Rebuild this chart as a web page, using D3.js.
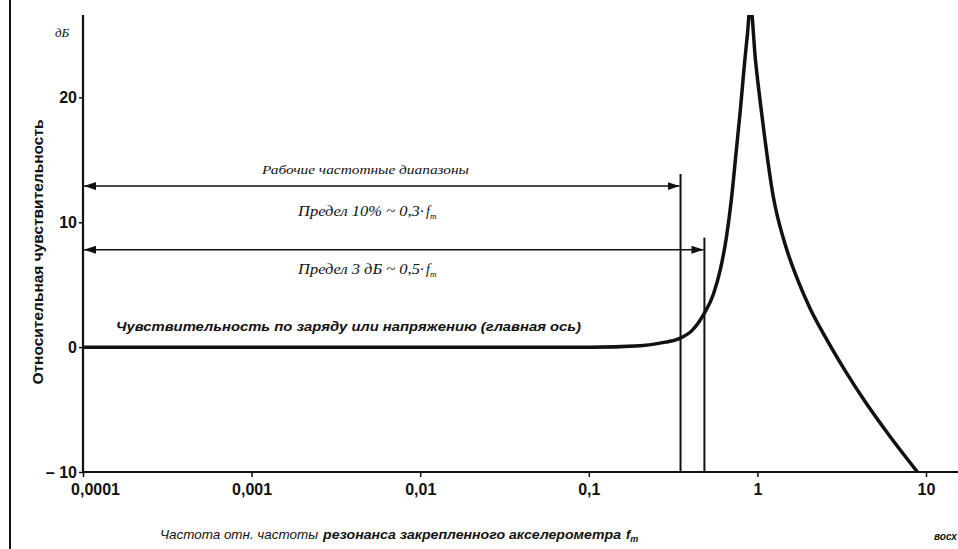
<!DOCTYPE html>
<html>
<head>
<meta charset="utf-8">
<script src="https://cdn.jsdelivr.net/npm/d3@7"></script>
<style>
  body { margin: 0; background: #fff; }
  svg { display: block; }
  .tick text { font-family: "Liberation Sans Narrow", "Liberation Sans", sans-serif; font-weight: bold; font-size: 16px; fill: #111; }
</style>
</head>
<body>
<svg id="chart" width="958" height="549"></svg>
<script>
// relative frequency (f / f_m) and relative sensitivity, dB
const freq = [0.0001, 0.001, 0.01, 0.1, 0.2023, 0.2846, 0.3494, 0.4116, 0.4849, 0.5483, 0.6035, 0.6549,
              0.7012, 0.7506, 0.7928, 0.8374, 0.8723, 0.9088, 0.9731, 1.071, 1.244, 1.466, 1.727, 2.063,
              2.531, 3.326, 4.371, 6.15, 8.9];
const sensDb = [0, 0, 0, 0, 0.12, 0.4, 0.72, 1.36, 2.72, 4.24, 6.24, 8.8,
                11.84, 15.84, 19.04, 22.64, 25.04, 27.44, 23.04, 18.24, 12.0, 8.16, 5.44, 3.04,
                0.8, -1.92, -4.4, -7.2, -10];

const xTicks = [0.0001, 0.001, 0.01, 0.1, 1, 10];
const xTickLabels = ["0,0001", "0,001", "0,01", "0,1", "1", "10"];
const yTicks = [-10, 0, 10, 20];
const yTickLabels = ["\u2013 10", "0", "10", "20"];

// working ranges: limit, arrow level in dB
const rangeLimits = [0.35, 0.485];
const rangeLevels = [12.9, 7.8];

const width = 958, height = 549;
const svg = d3.select("#chart");
const ink = "#111";

const x = d3.scaleLog().domain([0.0001, 10]).range([83, 926]);
const y = d3.scaleLinear().domain([-10, 26.6]).range([472, 15]);

// left frame line of the scan
svg.append("line")
    .attr("x1", 10).attr("x2", 10).attr("y1", 0).attr("y2", height)
    .attr("stroke", ink).attr("stroke-width", 2);

// axes
const xAxis = svg.append("g")
    .attr("transform", `translate(0,${y(-10)})`)
    .call(d3.axisBottom(x).tickValues(xTicks).tickSize(5).tickSizeOuter(0)
        .tickFormat((d, i) => xTickLabels[i]));
xAxis.select(".domain").remove();
xAxis.selectAll(".tick line").attr("stroke", ink).attr("stroke-width", 1.5);
xAxis.selectAll(".tick text").attr("dy", "0.95em");
// first label sits right of its tick, clear of the "-10"
xAxis.selectAll(".tick text").filter((d, i) => i === 0).attr("dx", 12);

const yAxis = svg.append("g")
    .attr("transform", `translate(${x(0.0001)},0)`)
    .call(d3.axisLeft(y).tickValues(yTicks).tickSize(4).tickSizeOuter(0)
        .tickFormat((d, i) => yTickLabels[i]));
yAxis.select(".domain").remove();
yAxis.selectAll(".tick line").attr("stroke", ink).attr("stroke-width", 1.5);
yAxis.selectAll(".tick text").attr("x", -6);

svg.append("line")
    .attr("x1", x(0.0001)).attr("x2", width).attr("y1", y(-10)).attr("y2", y(-10))
    .attr("stroke", ink).attr("stroke-width", 2.2);
svg.append("line")
    .attr("x1", x(0.0001)).attr("x2", x(0.0001)).attr("y1", y(26.6)).attr("y2", y(-10))
    .attr("stroke", ink).attr("stroke-width", 2.2);

svg.append("text")
    .attr("x", 55).attr("y", 37)
    .style("font-family", "Liberation Serif, serif").style("font-style", "italic")
    .style("font-size", "13px").attr("fill", ink)
    .text("дБ");

// y title
svg.append("text")
    .attr("transform", `translate(43,${252}) rotate(-90)`)
    .attr("text-anchor", "middle")
    .attr("textLength", 265).attr("lengthAdjust", "spacingAndGlyphs")
    .style("font-family", "Liberation Sans Narrow, Liberation Sans, sans-serif")
    .style("font-size", "14px").style("font-weight", "bold").attr("fill", ink)
    .text("Относительная чувствительность");

// arrow markers
const defs = svg.append("defs");
["start", "end"].forEach(k => {
    defs.append("marker")
        .attr("id", "arrow-" + k)
        .attr("viewBox", "0 0 12 8")
        .attr("refX", k === "end" ? 12 : 0).attr("refY", 4)
        .attr("markerWidth", 12).attr("markerHeight", 8)
        .attr("markerUnits", "userSpaceOnUse")
        .attr("orient", "auto")
        .append("path")
        .attr("d", k === "end" ? "M0,0L12,4L0,8Z" : "M12,0L0,4L12,8Z")
        .attr("fill", ink);
});
defs.append("clipPath").attr("id", "plot-clip")
    .append("rect").attr("x", x(0.0001)).attr("y", y(26.6))
    .attr("width", width).attr("height", y(-10) - y(26.6));

// working range limits with arrows
rangeLimits.forEach((f, i) => {
    svg.append("line")
        .attr("x1", x(f)).attr("x2", x(f))
        .attr("y1", y(rangeLevels[i]) - 12).attr("y2", y(-10))
        .attr("stroke", ink).attr("stroke-width", 2);
    svg.append("line")
        .attr("x1", x(0.0001) + 1).attr("x2", x(f) - 1)
        .attr("y1", y(rangeLevels[i])).attr("y2", y(rangeLevels[i]))
        .attr("stroke", ink).attr("stroke-width", 1.5)
        .attr("marker-start", "url(#arrow-start)")
        .attr("marker-end", "url(#arrow-end)");
});

// sensitivity curve
const data = freq.map((f, i) => ({ f: f, db: sensDb[i] }));
const line = d3.line()
    .x(d => x(d.f))
    .y(d => y(d.db))
    .curve(d3.curveMonotoneX);
svg.append("path")
    .datum(data)
    .attr("clip-path", "url(#plot-clip)")
    .attr("fill", "none")
    .attr("stroke", ink)
    .attr("stroke-width", 3.5)
    .attr("stroke-linejoin", "round")
    .attr("d", line);

// annotations
const serifItalic = t => t.style("font-family", "Liberation Serif, serif")
    .style("font-style", "italic").style("font-size", "13px").attr("fill", ink);

svg.append("text").attr("x", 262).attr("y", 174)
    .attr("textLength", 207).attr("lengthAdjust", "spacingAndGlyphs")
    .call(serifItalic).text("Рабочие частотные диапазоны");

[["Предел 10% ~ 0,3·", 216], ["Предел 3 дБ ~ 0,5·", 274]].forEach(([label, ty]) => {
    const t = svg.append("text").attr("x", 298).attr("y", ty).call(serifItalic)
        .style("font-size", "14px");
    t.append("tspan").attr("textLength", 126).attr("lengthAdjust", "spacingAndGlyphs").text(label);
    t.append("tspan").attr("dx", 2).text("f");
    t.append("tspan").attr("dy", 3).style("font-size", "9px").text("m");
});

svg.append("text").attr("x", 116).attr("y", 331)
    .attr("textLength", 465).attr("lengthAdjust", "spacingAndGlyphs")
    .style("font-family", "Liberation Sans Narrow, Liberation Sans, sans-serif")
    .style("font-style", "italic").style("font-weight", "bold")
    .style("font-size", "13px").attr("fill", ink)
    .text("Чувствительность по заряду или напряжению (главная ось)");

// x title
const xt = svg.append("text").attr("x", 160).attr("y", 539)
    .style("font-family", "Liberation Sans Narrow, Liberation Sans, sans-serif")
    .style("font-style", "italic").style("font-size", "13px").attr("fill", ink);
xt.append("tspan").attr("textLength", 158).attr("lengthAdjust", "spacingAndGlyphs").text("Частота отн. частоты");
xt.append("tspan").attr("dx", 5).attr("textLength", 298).attr("lengthAdjust", "spacingAndGlyphs")
    .style("font-weight", "bold").text("резонанса закрепленного акселерометра");
xt.append("tspan").attr("dx", 5).style("font-weight", "bold").text("f");
xt.append("tspan").attr("dy", 3).style("font-size", "9px").style("font-weight", "bold").text("m");

svg.append("text").attr("x", 934).attr("y", 540)
    .style("font-family", "Liberation Sans Narrow, Liberation Sans, sans-serif")
    .style("font-style", "italic").style("font-weight", "bold")
    .style("font-size", "10px").attr("fill", ink)
    .text("восх");
</script>
</body>
</html>
